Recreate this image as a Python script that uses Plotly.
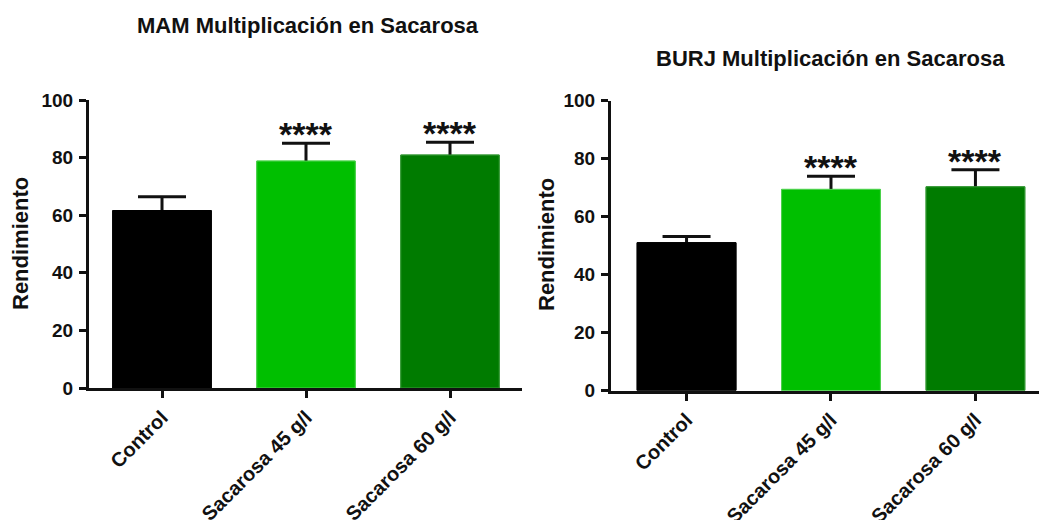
import plotly.graph_objects as go

# Group labels and yield values for the two cultivars
categories = ["Control", "Sacarosa 45 g/l", "Sacarosa 60 g/l"]
mam_mean = [61.6, 78.8, 80.9]
mam_sd = [4.8, 6.2, 4.4]
burj_mean = [51.0, 69.4, 70.3]
burj_sd = [2.1, 4.5, 5.9]
significance = ["", "****", "****"]
titles = ["MAM Multiplicación en Sacarosa", "BURJ Multiplicación en Sacarosa"]
y_title = "Rendimiento"
y_ticks = [0, 20, 40, 60, 80, 100]

bar_colors = ["#000000", "#00BF00", "#007B00"]
edge_colors = ["#000000", "#4FD24F", "#3C9C3C"]

W, H = 1039, 520
FAMILY = "Liberation Sans, Arial, sans-serif"
TICK_FONT = dict(family=FAMILY, size=19, color="#111111", weight="bold")
XTICK_FONT = dict(family=FAMILY, size=20, color="#111111", weight="bold")

fig = go.Figure()

panels = [
    dict(mean=mam_mean, sd=mam_sd, xa="x", ya="y"),
    dict(mean=burj_mean, sd=burj_sd, xa="x2", ya="y2"),
]

for p in panels:
    bar_kw = dict(x=categories, y=p["mean"], xaxis=p["xa"], yaxis=p["ya"], width=0.684,
                  marker=dict(color=bar_colors, line=dict(color=edge_colors, width=1)),
                  showlegend=False, hoverinfo="skip")
    # bars carrying the SD whiskers; the lower half is hidden by the copy drawn on top
    fig.add_trace(go.Bar(
        error_y=dict(type="data", array=p["sd"], symmetric=True,
                     color="#111111", thickness=3, width=24),
        **bar_kw,
    ))
    fig.add_trace(go.Bar(**bar_kw))
    # significance marks above the error bars
    for cat, m, s, lab in zip(categories, p["mean"], p["sd"], significance):
        if lab:
            fig.add_annotation(
                x=cat, y=m + s, xref=p["xa"], yref=p["ya"],
                text=lab, showarrow=False, yanchor="bottom",
                yshift=-12,
                font=dict(family=FAMILY, size=34, color="#111111", weight="bold"),
            )

axis_common = dict(
    showline=True, linecolor="#111111", linewidth=3,
    ticks="outside", tickcolor="#111111", tickwidth=3, ticklen=7,
    showgrid=False, zeroline=False, automargin=False,
)

fig.update_layout(
    width=W, height=H,
    margin=dict(l=0, r=0, t=0, b=0),
    paper_bgcolor="white", plot_bgcolor="white",
    barmode="overlay",
    xaxis=dict(domain=[89 / W, 522 / W], range=[-0.507, 2.5], anchor="y",
               tickangle=-45, tickfont=XTICK_FONT, **axis_common),
    yaxis=dict(domain=[1 - 388 / H, 1 - 100 / H], range=[0, 100], anchor="x",
               tickvals=y_ticks, tickfont=TICK_FONT, ticklabelstandoff=2, **axis_common),
    xaxis2=dict(domain=[611 / W, 1.0], range=[-0.523, 2.44], anchor="y2",
                tickangle=-45, tickfont=XTICK_FONT, **axis_common),
    yaxis2=dict(domain=[1 - 390.5 / H, 1 - 100.7 / H], range=[0, 100], anchor="x2",
                tickvals=y_ticks, tickfont=TICK_FONT, ticklabelstandoff=2, **axis_common),
)

TITLE_FONT = dict(family=FAMILY, size=22, color="#111111", weight="bold")
fig.add_annotation(text=titles[0], x=308 / W, y=1 - 25 / H, xref="paper", yref="paper",
                   showarrow=False, font=TITLE_FONT, xanchor="center", yanchor="middle")
fig.add_annotation(text=titles[1], x=830 / W, y=1 - 58 / H, xref="paper", yref="paper",
                   showarrow=False, font=TITLE_FONT, xanchor="center", yanchor="middle")

YT_FONT = dict(family=FAMILY, size=22, color="#111111", weight="bold")
fig.add_annotation(text=y_title, x=20 / W, y=1 - 244 / H, xref="paper", yref="paper",
                   showarrow=False, textangle=-90, font=YT_FONT, xanchor="center", yanchor="middle")
fig.add_annotation(text=y_title, x=546 / W, y=1 - 245 / H, xref="paper", yref="paper",
                   showarrow=False, textangle=-90, font=YT_FONT, xanchor="center", yanchor="middle")

fig.write_html("out.html")
